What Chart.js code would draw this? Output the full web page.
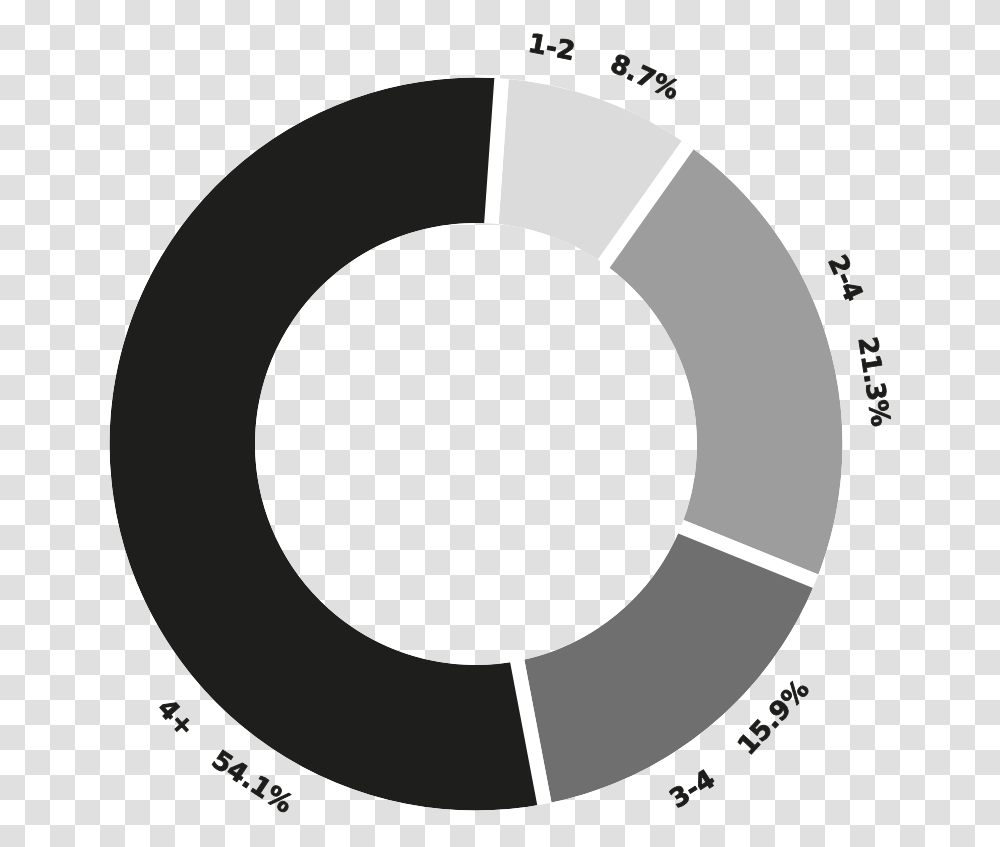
<!DOCTYPE html>
<html>
<head>
<meta charset="utf-8">
<script src="https://cdn.jsdelivr.net/npm/chart.js@4/dist/chart.umd.min.js"></script>
<style>
html, body { margin: 0; padding: 0; }
body {
  width: 1000px; height: 847px; overflow: hidden;
  background-color: #ffffff;
  background-image: conic-gradient(#e0e0e0 0 25%, #ffffff 0 50%, #e0e0e0 0 75%, #ffffff 0);
  background-size: 50px 50px;
}
#wrap { position: relative; width: 1000px; height: 847px; }
</style>
</head>
<body>
<div id="wrap"><canvas id="c"></canvas></div>
<script>
// ---- data ----
const categories = ['1-2', '2-4', '3-4', '4+'];
const shares = [8.7, 21.3, 15.9, 54.1];
const valueLabels = ['8.7%', '21.3%', '15.9%', '54.1%'];

// ---- styles / layout (kept apart from the data) ----
const sliceColors = ['#dbdbdb', '#9d9d9d', '#6f6f6f', '#1e1e1c'];
const OUTER = 366.5;      // visible outer radius (px)
const INNER = 221;        // visible inner radius (px)
const GAP = 14.5;         // white gap between slices (px)
const labelLayout = [     // angle from 12 o'clock (deg, clockwise) and distance from centre
  { cat: { a: 10.8,  r: 402 }, val: { a: 24.7,  r: 402 } },
  { cat: { a: 65.8,  r: 403 }, val: { a: 81.1,  r: 401 } },
  { cat: { a: 147.9, r: 409 }, val: { a: 132.6, r: 406 } },
  { cat: { a: 227.6, r: 408 }, val: { a: 213.5, r: 407 } }
];

const trimAndLabel = {
  id: 'trimAndLabel',
  afterDatasetsDraw(chart) {
    const arc = chart.getDatasetMeta(0).data[0];
    const p = arc.getProps(['x', 'y', 'outerRadius', 'innerRadius'], true);
    const ctx = chart.ctx;
    const W = chart.width, H = chart.height;
    // remove the white halo of the slice borders outside the ring
    ctx.save();
    ctx.beginPath();
    ctx.rect(0, 0, W, H);
    ctx.arc(p.x, p.y, p.outerRadius - GAP / 2, 0, Math.PI * 2);
    ctx.clip('evenodd');
    ctx.clearRect(0, 0, W, H);
    ctx.restore();
    // and inside the hole
    ctx.save();
    ctx.beginPath();
    ctx.arc(p.x, p.y, p.innerRadius + GAP / 2, 0, Math.PI * 2);
    ctx.clip();
    ctx.clearRect(0, 0, W, H);
    ctx.restore();
  },
  afterDraw(chart) {
    const arc = chart.getDatasetMeta(0).data[0];
    const cx = arc.x, cy = arc.y;
    const ctx = chart.ctx;
    ctx.save();
    ctx.font = 'bold 26px "DejaVu Sans"';
    ctx.fillStyle = '#1d1d1b';
    ctx.strokeStyle = '#1d1d1b';
    ctx.lineWidth = 0.9;
    ctx.lineJoin = 'round';
    ctx.textAlign = 'center';
    ctx.textBaseline = 'middle';
    const put = (text, pos) => {
      const t = pos.a * Math.PI / 180;
      const x = cx + pos.r * Math.sin(t);
      const y = cy - pos.r * Math.cos(t);
      const rot = (pos.a > 100 && pos.a < 260) ? pos.a - 180 : pos.a;
      ctx.save();
      ctx.translate(x, y);
      ctx.rotate(rot * Math.PI / 180);
      ctx.fillText(text, 0, 0);
      ctx.strokeText(text, 0, 0);
      ctx.restore();
    };
    categories.forEach((c, i) => {
      put(c, labelLayout[i].cat);
      put(valueLabels[i], labelLayout[i].val);
    });
    ctx.restore();
  }
};

new Chart(document.getElementById('c'), {
  type: 'doughnut',
  data: {
    labels: categories,
    datasets: [{
      data: shares,
      backgroundColor: sliceColors,
      borderColor: '#ffffff',
      borderWidth: GAP,
      hoverOffset: 0
    }]
  },
  options: {
    responsive: true,
    maintainAspectRatio: false,
    animation: false,
    events: [],
    rotation: 4,
    radius: OUTER + GAP / 2,
    cutout: ((INNER - GAP / 2) / (OUTER + GAP / 2) * 100) + '%',
    layout: { padding: { left: 0, right: 48, top: 41, bottom: 0 } },
    plugins: { legend: { display: false }, tooltip: { enabled: false } }
  },
  plugins: [trimAndLabel]
});
</script>
</body>
</html>
